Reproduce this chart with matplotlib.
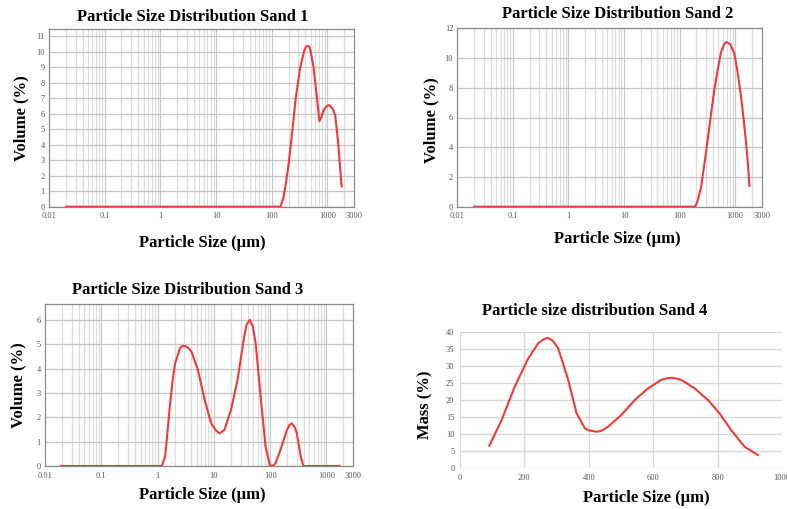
import matplotlib
matplotlib.use("Agg")
import matplotlib.pyplot as plt
from matplotlib.ticker import FixedLocator

# ---------------- data ----------------
log_xticks = [0.01, 0.1, 1, 10, 100, 1000, 3000]
log_xticklabels = ["0.01", "0.1", "1", "10", "100", "1000", "3000"]

sand1_size = [0.02, 0.1, 1, 10, 100, 143, 160, 176, 200, 231, 270, 325, 380, 410, 445, 475, 500,
              562, 640, 719, 780, 850, 950, 1050, 1120, 1250, 1380, 1550, 1800]
sand1_vol = [0, 0, 0, 0, 0, 0, 0.5, 1.3, 2.7, 4.7, 7.0, 9.0, 10.0, 10.3, 10.37, 10.3, 10.0,
             9.0, 7.2, 5.5, 5.8, 6.2, 6.45, 6.55, 6.5, 6.3, 5.9, 4.2, 1.3]

sand2_size = [0.02, 0.1, 1, 10, 100, 184, 197, 215, 243, 280, 320, 370, 422, 490, 556, 630, 660,
              703, 760, 820, 966, 1100, 1276, 1420, 1570, 1700, 1803]
sand2_vol = [0, 0, 0, 0, 0, 0, 0.1, 0.5, 1.3, 2.9, 4.5, 6.3, 7.9, 9.3, 10.4, 10.9, 11.02,
             11.07, 11.0, 10.9, 10.3, 9.1, 7.4, 5.9, 4.3, 2.8, 1.4]

sand3_size = [0.019, 0.1, 1, 1.19, 1.36, 1.5, 1.67, 1.85, 2.04, 2.5, 2.75, 3.06, 3.5, 4.0, 5.2,
              6.86, 8.97, 11.0, 12.6, 15.4, 20.1, 26.3, 34.5, 38, 43.4, 49, 55.3, 67.7, 82.8,
              98.6, 110, 124, 152, 199, 220, 243, 270, 298, 350, 389, 500, 1000, 1714]
sand3_vol = [0, 0, 0, 0, 0.38, 1.4, 2.58, 3.5, 4.2, 4.84, 4.92, 4.93, 4.85, 4.7, 3.95,
             2.71, 1.75, 1.45, 1.34, 1.48, 2.3, 3.53, 5.3, 5.8, 6.0, 5.75, 5.04, 2.85, 0.8,
             0.04, 0.0, 0.1, 0.66, 1.48, 1.68, 1.75, 1.62, 1.34, 0.38, 0, 0, 0, 0]

sand4_size = [91, 129, 170, 212, 243, 258, 272, 288, 305, 336, 362, 388, 400, 424, 440, 460, 501,
              543, 584, 625, 640, 656, 672, 687, 729, 770, 806, 842, 884, 925]
sand4_mass = [6.6, 14.1, 23.9, 32.2, 36.6, 37.7, 38.2, 37.4, 35.1, 25.9, 16.1, 11.7, 11.1, 10.7,
              11.0, 12.2, 15.6, 20.0, 23.4, 25.9, 26.3, 26.5, 26.3, 25.9, 23.4, 20.0, 16.1, 11.2,
              6.3, 3.9]

titles = ["Particle Size Distribution Sand 1", "Particle Size Distribution Sand 2",
          "Particle Size Distribution Sand 3", "Particle size distribution Sand 4"]
xlabel = "Particle Size (\u00b5m)"

# ---------------- figure ----------------
W, H = 787, 509
fig = plt.figure(figsize=(W / 100, H / 100), dpi=100)

SERIF = ["Liberation Serif", "DejaVu Serif"]
RED = "#f03a3a"


def box(l, t, r, b):
    return [l / W, 1 - b / H, (r - l) / W, (b - t) / H]


def log_panel(rect, x, y, yticks, ymax):
    ax = fig.add_axes(rect)
    ax.set_xscale("log")
    ax.set_xlim(0.01, 3000)
    ax.set_ylim(0, ymax)
    minors = []
    for d in [0.01, 0.1, 1, 10, 100, 1000]:
        for k in range(2, 10):
            v = d * k
            if v < 3000:
                minors.append(v)
    for v in minors:
        ax.axvline(v, color="#dcdcdc", lw=0.9, zorder=0)
    for v in [0.1, 1, 10, 100, 1000]:
        ax.axvline(v, color="#c8c8c8", lw=0.9, zorder=0)
    for v in yticks:
        ax.axhline(v, color="#c4c4c4", lw=0.9, zorder=0)
    ax.xaxis.set_major_locator(FixedLocator(log_xticks))
    ax.xaxis.set_minor_locator(FixedLocator([]))
    ax.set_xticklabels(log_xticklabels)
    ax.set_yticks(yticks)
    ax.tick_params(axis="y", length=0, labelsize=6, colors="#555555", pad=3)
    ax.tick_params(axis="x", length=0, labelsize=6, colors="#555555", pad=4)
    for lab in ax.get_xticklabels() + ax.get_yticklabels():
        lab.set_family(SERIF)
    for s in ax.spines.values():
        s.set_color("#8a8a8a")
        s.set_linewidth(0.9)
    ax.plot(x, y, color=RED, lw=1.5, zorder=3)
    return ax


ax1 = log_panel(box(49, 29, 354, 206.7), sand1_size, sand1_vol, list(range(0, 12)), 11.45)
ax2 = log_panel(box(457.3, 28.3, 761.7, 206.7), sand2_size, sand2_vol, list(range(0, 13, 2)), 12.0)
ax3 = log_panel(box(45, 304.3, 353.3, 466), sand3_size, sand3_vol, list(range(0, 7)), 6.64)

# panel 4 (linear, spreadsheet style)
ax4 = fig.add_axes(box(460, 331.7, 782, 468.3))
ax4.set_xlim(0, 1000)
ax4.set_ylim(0, 40)
ax4.set_xticks([0, 200, 400, 600, 800, 1000])
ax4.set_yticks(list(range(0, 41, 5)))
for v in range(0, 41, 5):
    ax4.axhline(v, color="#d9d9d9", lw=1.0, zorder=0)
for v in [0, 200, 400, 600, 800]:
    ax4.axvline(v, color="#d9d9d9", lw=1.0, zorder=0)
for s in ax4.spines.values():
    s.set_visible(False)
ax4.tick_params(axis="both", length=0, labelsize=6, colors="#555555", pad=4)
for lab in ax4.get_xticklabels() + ax4.get_yticklabels():
    lab.set_family(SERIF)
ax4.plot(sand4_size, sand4_mass, color=RED, lw=1.5, zorder=3)

# ---------------- texts ----------------
TFS = 12
LFS = 12


def ftext(x, y, s, size, rot=0):
    fig.text(x / W, 1 - y / H, s, ha="center", va="center", fontsize=size,
             fontweight="bold", family=SERIF, rotation=rot)


ftext(193, 16.7, titles[0], TFS)
ftext(618, 14, titles[1], TFS)
ftext(188, 290, titles[2], TFS)
ftext(595, 310.7, titles[3], TFS)

ftext(202, 243, xlabel, LFS)
ftext(617.5, 239, xlabel, LFS)
ftext(202.5, 495, xlabel, LFS)
ftext(646.7, 498, xlabel, LFS)

ftext(21.7, 118, "Volume (%)", LFS, 90)
ftext(431.7, 120, "Volume (%)", LFS, 90)
ftext(18, 385, "Volume (%)", LFS, 90)
ftext(425, 405, "Mass (%)", LFS, 90)

fig.savefig("out.png", dpi=100, facecolor="white")
